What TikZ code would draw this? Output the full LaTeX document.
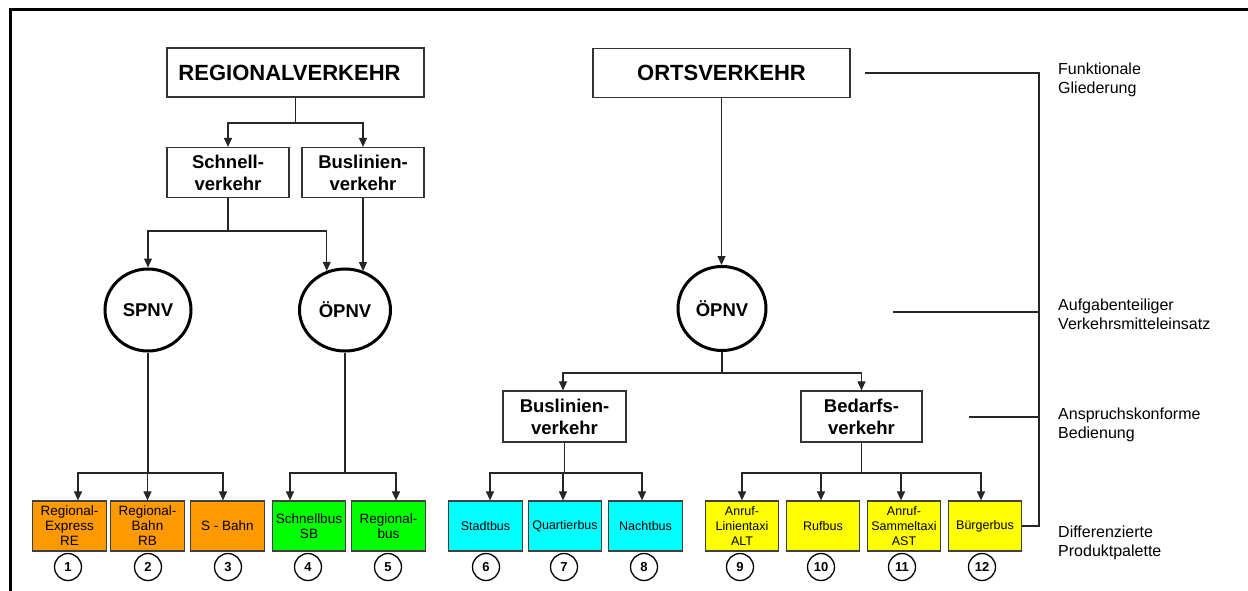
\documentclass[tikz,border=0pt]{standalone}
\usepackage{fontspec}
\setmainfont{Liberation Sans}
\usetikzlibrary{arrows.meta,shapes.geometric}
\begin{document}
\begin{tikzpicture}[x=1pt,y=-1pt,
 conn/.style={draw=black!85, line width=1.1pt},
 arr/.style={conn, -{Triangle[length=9pt,width=8pt]}},
 topbox/.style={draw=black!80, line width=1.2pt, minimum width=257pt, minimum height=49pt, inner sep=0pt, font=\fontsize{22}{26}\selectfont\bfseries},
 midbox/.style={draw=black!80, line width=1.2pt, minimum width=122pt, minimum height=50pt, inner sep=0pt, align=center, font=\fontsize{18.5}{22}\selectfont\bfseries},
 circ/.style={ellipse, draw=black, line width=3pt, inner sep=0pt, font=\fontsize{18.5}{22}\selectfont\bfseries},
 prod/.style={draw=black!75, line width=1.2pt, minimum width=73.5pt, minimum height=50pt, inner sep=0pt, align=center},
 lprod/.style={prod, font=\fontsize{13.5}{15}\selectfont},
 rprod/.style={prod, font=\fontsize{12.5}{15}\selectfont},
 numc/.style={circle, draw=black, line width=1.3pt, minimum size=27pt, inner sep=0pt, font=\fontsize{13}{15}\selectfont\bfseries},
 side/.style={anchor=north west, inner sep=0pt, align=left, font=\fontsize{16}{19}\selectfont},
]
\useasboundingbox (0,0) rectangle (1248,591);
\fill[white] (0,0) rectangle (1248,591);
% frame
\draw[line width=3pt] (10.5,591) -- (10.5,9.5) -- (1248,9.5);

% top level
\node[topbox] (reg) at (295.5,72.5) {\hspace*{-12pt}REGIONALVERKEHR};
\node[topbox] (orts) at (721.5,73) {ORTSVERKEHR};

% second level left
\node[midbox] (schnell) at (228,172.5) {Schnell-\\verkehr};
\node[midbox] (busreg) at (363,172.5) {Buslinien-\\verkehr};

% circles
\node[circ, minimum width=86pt, minimum height=82pt] (spnv) at (148,310) {SPNV};
\node[circ, minimum width=91pt, minimum height=82pt] (oepnvL) at (345,310) {ÖPNV};
\node[circ, minimum width=88pt, minimum height=84pt] (oepnvR) at (722,308.5) {ÖPNV};

% right mid boxes
\node[midbox, minimum width=123pt, minimum height=51pt] (buslR) at (564.5,416.5) {Buslinien-\\verkehr};
\node[midbox, minimum width=121pt, minimum height=51pt] (bedarf) at (861.5,416.5) {Bedarfs-\\verkehr};

% product boxes
\node[lprod, fill={rgb,255:red,255;green,153;blue,0}] (re) at (69.5,526) {Regional-\\Express\\RE};
\node[lprod, fill={rgb,255:red,255;green,153;blue,0}] (rb) at (147.5,526) {Regional-\\Bahn\\RB};
\node[lprod, fill={rgb,255:red,255;green,153;blue,0}] (sbahn) at (227.5,526) {S - Bahn};
\node[lprod, fill={rgb,255:red,0;green,255;blue,0}] (schb) at (309,526) {Schnellbus\\SB};
\node[lprod, fill={rgb,255:red,0;green,255;blue,0}] (regb) at (388.5,526) {Regional-\\bus};
\node[rprod, fill={rgb,255:red,0;green,255;blue,255}] (stadt) at (485.5,526) {Stadtbus};
\node[rprod, fill={rgb,255:red,0;green,255;blue,255}] (quart) at (565,526) {Quartierbus};
\node[rprod, fill={rgb,255:red,0;green,255;blue,255}] (nacht) at (645.5,526) {Nachtbus};
\node[rprod, fill={rgb,255:red,255;green,255;blue,0}] (alt) at (742,526) {Anruf-\\Linientaxi\\ALT};
\node[rprod, fill={rgb,255:red,255;green,255;blue,0}] (ruf) at (823,526) {Rufbus};
\node[rprod, fill={rgb,255:red,255;green,255;blue,0}] (ast) at (904,526) {Anruf-\\Sammeltaxi\\AST};
\node[rprod, fill={rgb,255:red,255;green,255;blue,0}] (buerg) at (985,526) {Bürgerbus};

% numbers
\node[numc] (n1) at (68,567) {1};
\node[numc] (n2) at (148,567) {2};
\node[numc] (n3) at (228,567) {3};
\node[numc] (n4) at (308,567) {4};
\node[numc] (n5) at (388,567) {5};
\node[numc] (n6) at (486,567) {6};
\node[numc] (n7) at (564,567) {7};
\node[numc] (n8) at (644,567) {8};
\node[numc] (n9) at (740,567) {9};
\node[numc] (n10) at (821,567) {10};
\node[numc] (n11) at (902,567) {11};
\node[numc] (n12) at (982,567) {12};

% junction coordinates
\coordinate (jreg) at (295.5,123);
\coordinate (jsch) at (228,231);
\coordinate (jspnv) at (148,473);
\coordinate (joeL) at (345,473);
\coordinate (joeR) at (722,373);
\coordinate (jbusR) at (564.5,473);
\coordinate (jbed) at (861.5,473);

% connectors
\draw[arr] (reg.south) |- (jreg) -| (schnell.north);
\draw[arr] (reg.south) |- (jreg) -| (busreg.north);
\draw[arr] (schnell.south) |- (jsch) -| (spnv.north);
\draw[arr] (schnell.south) |- (jsch) -| (oepnvL.115.5);
\draw[arr] (busreg.south) -- (busreg.south |- oepnvL.64.5);

\draw[arr] (spnv.south) |- (jspnv) -| ([xshift=8.5pt]re.north);
\draw[arr] (spnv.south) |- (jspnv) -| (rb.north);
\draw[arr] (spnv.south) |- (jspnv) -| ([xshift=-4.5pt]sbahn.north);
\draw[arr] (oepnvL.south) |- (joeL) -| ([xshift=-19pt]schb.north);
\draw[arr] (oepnvL.south) |- (joeL) -| ([xshift=7.5pt]regb.north);

\draw[arr] (orts.south) -- (orts.south |- oepnvR.north);
\draw[arr] (oepnvR.south) |- (joeR) -| ([xshift=-1.5pt]buslR.north);
\draw[arr] (oepnvR.south) |- (joeR) -| (bedarf.north);

\draw[arr] (buslR.south) |- (jbusR) -| ([xshift=4.5pt]stadt.north);
\draw[arr] (buslR.south) |- (jbusR) -| ([xshift=-2pt]quart.north);
\draw[arr] (buslR.south) |- (jbusR) -| ([xshift=-3.5pt]nacht.north);
\draw[arr] (bedarf.south) |- (jbed) -| (alt.north);
\draw[arr] (bedarf.south) |- (jbed) -| ([xshift=-2pt]ruf.north);
\draw[arr] (bedarf.south) |- (jbed) -| ([xshift=-3pt]ast.north);
\draw[arr] (bedarf.south) |- (jbed) -| ([xshift=-4pt]buerg.north);

% right bracket lines
\coordinate (fr) at (1039,73);
\coordinate (fl) at (865,73);
\coordinate (a1) at (893,312);
\coordinate (a2) at (1039,312);
\coordinate (b1) at (969,417);
\coordinate (b2) at (1039,417);
\draw[conn] (buerg.east) -| (fr) -- (fl);
\draw[conn] (a1) -- (a2);
\draw[conn] (b1) -- (b2);

% side labels
\node[side] (l1) at (1058,62.5) {Funktionale\\Gliederung};
\node[side] (l2) at (1058,298.5) {Aufgabenteiliger\\Verkehrsmitteleinsatz};
\node[side] (l3) at (1058,407.5) {Anspruchskonforme\\Bedienung};
\node[side] (l4) at (1058,525.5) {Differenzierte\\Produktpalette};
\end{tikzpicture}
\end{document}
